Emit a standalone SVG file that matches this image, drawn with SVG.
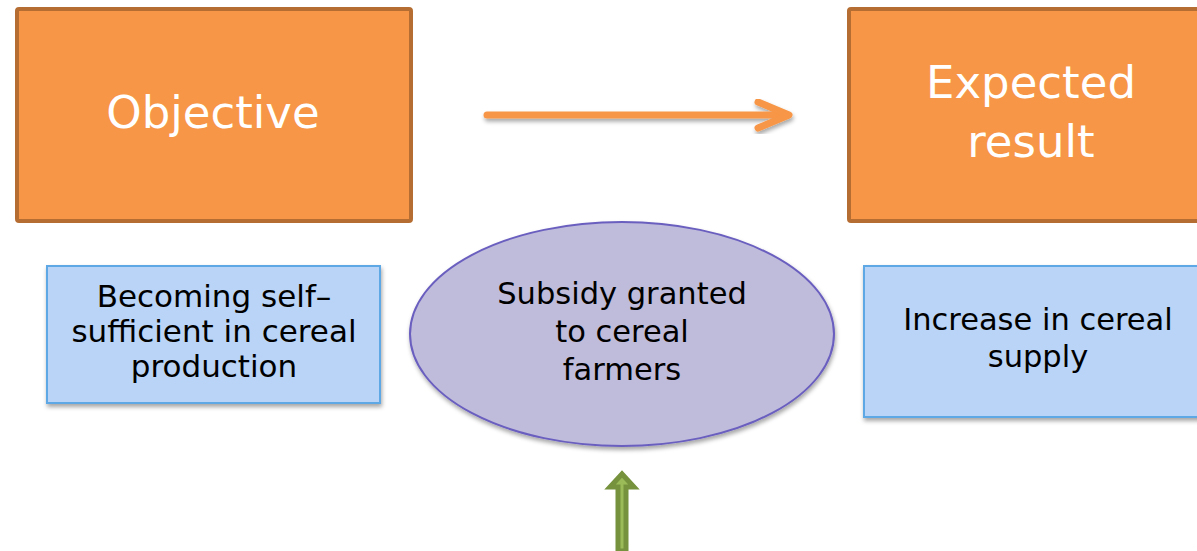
<svg xmlns="http://www.w3.org/2000/svg" width="1197" height="551" viewBox="0 0 1197 551">
<style>
.title{fill:#F79646;stroke:#B56D31;stroke-width:4}
.tt{font-family:"DejaVu Sans",sans-serif;font-size:45px;fill:#FFFFFF;text-anchor:middle}
.blue{fill:#B9D4F6;stroke:#5FA8E6;stroke-width:2}
.bt{font-family:"DejaVu Sans",sans-serif;font-size:30.5px;fill:#000000;text-anchor:middle}
</style>
<defs>
<filter id="sh" x="-10%" y="-10%" width="130%" height="130%">
<feDropShadow dx="1" dy="3" stdDeviation="2" flood-color="#000" flood-opacity="0.35"/>
</filter>
</defs>
<g id="connectors">
<g filter="url(#sh)" fill="none" stroke="#F79646" stroke-width="7" stroke-linecap="round" stroke-linejoin="round">
<line x1="487" y1="115" x2="786" y2="115"/>
<polyline points="758,102 789,115 758,128"/>
</g>
<polygon points="618,551 618,487 610,487 622,474 634,487 626,487 626,551" fill="#9BBB59" stroke="#76923C" stroke-width="5"/>
</g>
<g id="objective">
<rect class="title" x="17" y="9" width="394" height="212" rx="2"/>
<text class="tt" x="213" y="128">Objective</text>
</g>
<g id="expected-result">
<rect class="title" x="849" y="9" width="366" height="212" rx="2"/>
<text class="tt" x="1031" y="98">Expected</text>
<text class="tt" x="1031" y="157">result</text>
</g>
<g id="becoming">
<rect class="blue" x="47" y="266" width="333" height="137" filter="url(#sh)"/>
<text class="bt" x="214" y="307" style="font-size:31px">Becoming self–</text>
<text class="bt" x="214" y="342" style="font-size:31px">sufficient in cereal</text>
<text class="bt" x="214" y="377" style="font-size:31px">production</text>
</g>
<g id="subsidy">
<ellipse cx="622" cy="334" rx="212" ry="112" fill="#BFBBDB" stroke="#6A5FBF" stroke-width="2" filter="url(#sh)"/>
<text class="bt" x="622" y="304">Subsidy granted</text>
<text class="bt" x="622" y="342">to cereal</text>
<text class="bt" x="622" y="380">farmers</text>
</g>
<g id="increase">
<rect class="blue" x="864" y="266" width="350" height="151" filter="url(#sh)"/>
<text class="bt" x="1038" y="330">Increase in cereal</text>
<text class="bt" x="1038" y="367">supply</text>
</g>
</svg>
